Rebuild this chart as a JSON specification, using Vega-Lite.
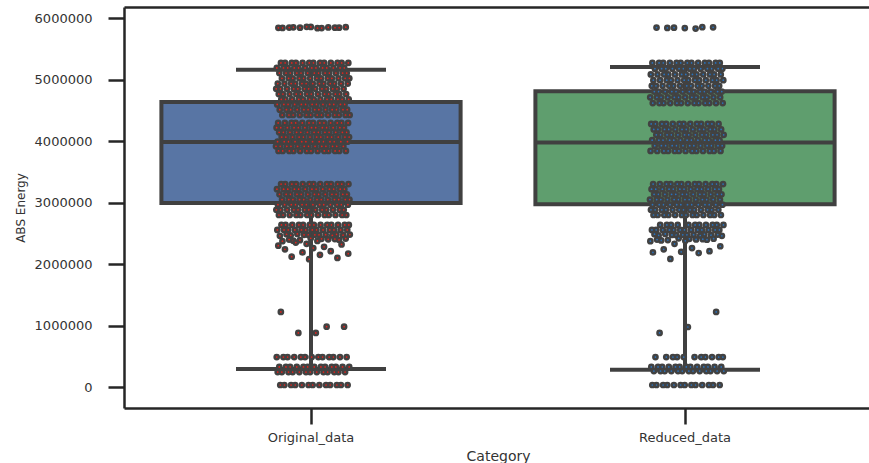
{
  "$schema": "https://vega.github.io/schema/vega-lite/v6.json",
  "autosize": {"type": "none"},
  "padding": {"left": 124, "top": 7, "right": 0, "bottom": 55},
  "width": 745,
  "height": 401,
  "view": {"stroke": null},
  "config": {
    "font": "DejaVu Sans",
    "view": {"stroke": null},
    "axisLeft": {
      "domain": true, "domainWidth": 2.5, "domainColor": "#262626",
      "ticks": true, "tickSize": 16, "tickWidth": 2.5, "tickColor": "#262626",
      "labels": true, "labelFontSize": 13, "labelColor": "#333333", "labelPadding": 16,
      "titleFontSize": 12, "titleFontWeight": "normal", "titleColor": "#333333", "titlePadding": 7,
      "grid": false
    },
    "axisRight": {"domain": false, "ticks": false, "labels": false, "grid": false, "titleOpacity": 0},
    "axisBottom": {
      "domain": true, "domainWidth": 2.5, "domainColor": "#262626",
      "ticks": true, "tickSize": 16, "tickWidth": 2.5, "tickColor": "#262626",
      "labels": true, "labelFontSize": 13, "labelColor": "#333333", "labelPadding": 7, "labelAngle": 0,
      "titleFontSize": 14, "titleFontWeight": "normal", "titleColor": "#333333", "titlePadding": 5,
      "grid": false
    },
    "axisTop": {"domain": true, "domainWidth": 2.5, "domainColor": "#262626", "ticks": false, "labels": false, "grid": false, "titleOpacity": 0}
  },
  "datasets": {
    "box": [
      {"c": "Original_data", "lo": 294000, "q1": 2993000, "med": 3985000, "q3": 4635000, "hi": 5160000},
      {"c": "Reduced_data", "lo": 281000, "q1": 2972000, "med": 3977000, "q3": 4809000, "hi": 5204000}
    ],
    "orig": [
      {"v":5838000},{"v":5850000},{"v":5844000},{"v":5856000},{"v":5840000},{"v":5848000},{"v":5844000},{"v":5852000},{"v":5836000},{"v":5846000},{"v":5844000},{"v":5858000},{"v":5842000},
      {"v":5270000},{"v":5270000},{"v":5270000},{"v":5270000},{"v":5270000},{"v":5270000},{"v":5270000},{"v":5270000},{"v":5270000},{"v":5270000},{"v":5270000},{"v":5270000},{"v":5270000},
      {"v":5190000},{"v":5190000},{"v":5190000},{"v":5190000},{"v":5190000},{"v":5190000},{"v":5190000},{"v":5190000},{"v":5190000},{"v":5190000},{"v":5190000},{"v":5190000},{"v":5190000},
      {"v":5105000},{"v":5105000},{"v":5105000},{"v":5105000},{"v":5105000},{"v":5105000},{"v":5105000},{"v":5105000},{"v":5105000},{"v":5105000},{"v":5105000},{"v":5105000},{"v":5105000},
      {"v":5020000},{"v":5020000},{"v":5020000},{"v":5020000},{"v":5020000},{"v":5020000},{"v":5020000},{"v":5020000},{"v":5020000},{"v":5020000},{"v":5020000},{"v":5020000},{"v":5020000},
      {"v":4935000},{"v":4935000},{"v":4935000},{"v":4935000},{"v":4935000},{"v":4935000},{"v":4935000},{"v":4935000},{"v":4935000},{"v":4935000},{"v":4935000},{"v":4935000},{"v":4935000},
      {"v":4850000},{"v":4850000},{"v":4850000},{"v":4850000},{"v":4850000},{"v":4850000},{"v":4850000},{"v":4850000},{"v":4850000},{"v":4850000},{"v":4850000},{"v":4850000},{"v":4850000},
      {"v":4765000},{"v":4765000},{"v":4765000},{"v":4765000},{"v":4765000},{"v":4765000},{"v":4765000},{"v":4765000},{"v":4765000},{"v":4765000},{"v":4765000},{"v":4765000},{"v":4765000},
      {"v":4680000},{"v":4680000},{"v":4680000},{"v":4680000},{"v":4680000},{"v":4680000},{"v":4680000},{"v":4680000},{"v":4680000},{"v":4680000},{"v":4680000},{"v":4680000},{"v":4680000},
      {"v":4595000},{"v":4595000},{"v":4595000},{"v":4595000},{"v":4595000},{"v":4595000},{"v":4595000},{"v":4595000},{"v":4595000},{"v":4595000},{"v":4595000},{"v":4595000},{"v":4595000},
      {"v":4510000},{"v":4510000},{"v":4510000},{"v":4510000},{"v":4510000},{"v":4510000},{"v":4510000},{"v":4510000},{"v":4510000},{"v":4510000},{"v":4510000},{"v":4510000},{"v":4510000},
      {"v":4424000},{"v":4424000},{"v":4424000},{"v":4424000},{"v":4424000},{"v":4424000},{"v":4424000},{"v":4424000},{"v":4424000},{"v":4424000},{"v":4424000},{"v":4424000},{"v":4424000},
      {"v":4294000},{"v":4294000},{"v":4294000},{"v":4294000},{"v":4294000},{"v":4294000},{"v":4294000},{"v":4294000},{"v":4294000},{"v":4294000},{"v":4294000},{"v":4294000},{"v":4294000},
      {"v":4218000},{"v":4218000},{"v":4218000},{"v":4218000},{"v":4218000},{"v":4218000},{"v":4218000},{"v":4218000},{"v":4218000},{"v":4218000},{"v":4218000},{"v":4218000},{"v":4218000},
      {"v":4142000},{"v":4142000},{"v":4142000},{"v":4142000},{"v":4142000},{"v":4142000},{"v":4142000},{"v":4142000},{"v":4142000},{"v":4142000},{"v":4142000},{"v":4142000},{"v":4142000},
      {"v":4066000},{"v":4066000},{"v":4066000},{"v":4066000},{"v":4066000},{"v":4066000},{"v":4066000},{"v":4066000},{"v":4066000},{"v":4066000},{"v":4066000},{"v":4066000},{"v":4066000},
      {"v":3990000},{"v":3990000},{"v":3990000},{"v":3990000},{"v":3990000},{"v":3990000},{"v":3990000},{"v":3990000},{"v":3990000},{"v":3990000},{"v":3990000},{"v":3990000},{"v":3990000},
      {"v":3914000},{"v":3914000},{"v":3914000},{"v":3914000},{"v":3914000},{"v":3914000},{"v":3914000},{"v":3914000},{"v":3914000},{"v":3914000},{"v":3914000},{"v":3914000},{"v":3914000},
      {"v":3839000},{"v":3839000},{"v":3839000},{"v":3839000},{"v":3839000},{"v":3839000},{"v":3839000},{"v":3839000},{"v":3839000},{"v":3839000},{"v":3839000},{"v":3839000},{"v":3839000},
      {"v":3302000},{"v":3302000},{"v":3302000},{"v":3302000},{"v":3302000},{"v":3302000},{"v":3302000},{"v":3302000},{"v":3302000},{"v":3302000},{"v":3302000},{"v":3302000},{"v":3302000},
      {"v":3218000},{"v":3218000},{"v":3218000},{"v":3218000},{"v":3218000},{"v":3218000},{"v":3218000},{"v":3218000},{"v":3218000},{"v":3218000},{"v":3218000},{"v":3218000},{"v":3218000},
      {"v":3134000},{"v":3134000},{"v":3134000},{"v":3134000},{"v":3134000},{"v":3134000},{"v":3134000},{"v":3134000},{"v":3134000},{"v":3134000},{"v":3134000},{"v":3134000},{"v":3134000},
      {"v":3050000},{"v":3050000},{"v":3050000},{"v":3050000},{"v":3050000},{"v":3050000},{"v":3050000},{"v":3050000},{"v":3050000},{"v":3050000},{"v":3050000},{"v":3050000},{"v":3050000},
      {"v":2966000},{"v":2966000},{"v":2966000},{"v":2966000},{"v":2966000},{"v":2966000},{"v":2966000},{"v":2966000},{"v":2966000},{"v":2966000},{"v":2966000},{"v":2966000},{"v":2966000},
      {"v":2882000},{"v":2882000},{"v":2882000},{"v":2882000},{"v":2882000},{"v":2882000},{"v":2882000},{"v":2882000},{"v":2882000},{"v":2882000},{"v":2882000},{"v":2882000},{"v":2882000},
      {"v":2798000},{"v":2798000},{"v":2798000},{"v":2798000},{"v":2798000},{"v":2798000},{"v":2798000},{"v":2798000},{"v":2798000},{"v":2798000},{"v":2798000},{"v":2798000},{"v":2798000},
      {"v":2636000},{"v":2636000},{"v":2636000},{"v":2636000},{"v":2636000},{"v":2636000},{"v":2636000},{"v":2636000},{"v":2636000},{"v":2636000},{"v":2636000},{"v":2636000},{"v":2636000},
      {"v":2555000},{"v":2555000},{"v":2555000},{"v":2555000},{"v":2555000},{"v":2555000},{"v":2555000},{"v":2555000},{"v":2555000},{"v":2555000},{"v":2555000},{"v":2555000},{"v":2555000},
      {"v":2475000},{"v":2468000},{"v":2482000},{"v":2475000},{"v":2460000},{"v":2478000},{"v":2490000},{"v":2470000},{"v":2475000},{"v":2485000},{"v":2465000},{"v":2475000},{"v":2480000},
      {"v":2410000},{"v":2380000},{"v":2395000},{"v":2420000},{"v":2372000},{"v":2402000},{"v":2388000},{"v":2415000},{"v":2376000},{"v":2398000},{"v":2406000},
      {"v":2330000},{"v":2300000},{"v":2280000},{"v":2350000},{"v":2320000},{"v":2260000},{"v":2240000},{"v":2210000},{"v":2190000},{"v":2170000},{"v":2150000},{"v":2120000},{"v":2100000},{"v":2080000},
      {"v":1221000},{"v":982000},{"v":880000},{"v":982000},{"v":880000},
      {"v":489000},{"v":489000},{"v":489000},{"v":489000},{"v":489000},{"v":489000},{"v":489000},{"v":489000},{"v":489000},{"v":489000},{"v":489000},{"v":489000},{"v":489000},
      {"v":327000},{"v":327000},{"v":327000},{"v":327000},{"v":327000},{"v":327000},{"v":327000},{"v":327000},{"v":327000},{"v":327000},{"v":327000},{"v":327000},{"v":327000},
      {"v":245000},{"v":245000},{"v":245000},{"v":245000},{"v":245000},{"v":245000},{"v":245000},{"v":245000},{"v":245000},{"v":245000},{"v":245000},{"v":245000},{"v":245000},
      {"v":34000},{"v":34000},{"v":34000},{"v":34000},{"v":34000},{"v":34000},{"v":34000},{"v":34000},{"v":34000},{"v":34000},{"v":34000},{"v":34000},{"v":34000}
    ],
    "red": [
      {"v":5830000},{"v":5840000},{"v":5850000},{"v":5838000},{"v":5846000},{"v":5852000},{"v":5844000},
      {"v":5270000},{"v":5270000},{"v":5270000},{"v":5270000},{"v":5270000},{"v":5270000},{"v":5270000},{"v":5270000},{"v":5270000},{"v":5270000},{"v":5270000},{"v":5270000},{"v":5270000},
      {"v":5177000},{"v":5177000},{"v":5177000},{"v":5177000},{"v":5177000},{"v":5177000},{"v":5177000},{"v":5177000},{"v":5177000},{"v":5177000},{"v":5177000},{"v":5177000},{"v":5177000},
      {"v":5084000},{"v":5084000},{"v":5084000},{"v":5084000},{"v":5084000},{"v":5084000},{"v":5084000},{"v":5084000},{"v":5084000},{"v":5084000},{"v":5084000},{"v":5084000},{"v":5084000},
      {"v":4991000},{"v":4991000},{"v":4991000},{"v":4991000},{"v":4991000},{"v":4991000},{"v":4991000},{"v":4991000},{"v":4991000},{"v":4991000},{"v":4991000},{"v":4991000},{"v":4991000},
      {"v":4898000},{"v":4898000},{"v":4898000},{"v":4898000},{"v":4898000},{"v":4898000},{"v":4898000},{"v":4898000},{"v":4898000},{"v":4898000},{"v":4898000},{"v":4898000},{"v":4898000},
      {"v":4805000},{"v":4805000},{"v":4805000},{"v":4805000},{"v":4805000},{"v":4805000},{"v":4805000},{"v":4805000},{"v":4805000},{"v":4805000},{"v":4805000},{"v":4805000},{"v":4805000},
      {"v":4712000},{"v":4712000},{"v":4712000},{"v":4712000},{"v":4712000},{"v":4712000},{"v":4712000},{"v":4712000},{"v":4712000},{"v":4712000},{"v":4712000},{"v":4712000},{"v":4712000},
      {"v":4619000},{"v":4619000},{"v":4619000},{"v":4619000},{"v":4619000},{"v":4619000},{"v":4619000},{"v":4619000},{"v":4619000},{"v":4619000},{"v":4619000},{"v":4619000},{"v":4619000},
      {"v":4278000},{"v":4278000},{"v":4278000},{"v":4278000},{"v":4278000},{"v":4278000},{"v":4278000},{"v":4278000},{"v":4278000},{"v":4278000},{"v":4278000},{"v":4278000},{"v":4278000},
      {"v":4190000},{"v":4190000},{"v":4190000},{"v":4190000},{"v":4190000},{"v":4190000},{"v":4190000},{"v":4190000},{"v":4190000},{"v":4190000},{"v":4190000},{"v":4190000},{"v":4190000},
      {"v":4102000},{"v":4102000},{"v":4102000},{"v":4102000},{"v":4102000},{"v":4102000},{"v":4102000},{"v":4102000},{"v":4102000},{"v":4102000},{"v":4102000},{"v":4102000},{"v":4102000},
      {"v":4014000},{"v":4014000},{"v":4014000},{"v":4014000},{"v":4014000},{"v":4014000},{"v":4014000},{"v":4014000},{"v":4014000},{"v":4014000},{"v":4014000},{"v":4014000},{"v":4014000},
      {"v":3926000},{"v":3926000},{"v":3926000},{"v":3926000},{"v":3926000},{"v":3926000},{"v":3926000},{"v":3926000},{"v":3926000},{"v":3926000},{"v":3926000},{"v":3926000},{"v":3926000},
      {"v":3839000},{"v":3839000},{"v":3839000},{"v":3839000},{"v":3839000},{"v":3839000},{"v":3839000},{"v":3839000},{"v":3839000},{"v":3839000},{"v":3839000},{"v":3839000},{"v":3839000},
      {"v":3302000},{"v":3302000},{"v":3302000},{"v":3302000},{"v":3302000},{"v":3302000},{"v":3302000},{"v":3302000},{"v":3302000},{"v":3302000},{"v":3302000},{"v":3302000},{"v":3302000},
      {"v":3218000},{"v":3218000},{"v":3218000},{"v":3218000},{"v":3218000},{"v":3218000},{"v":3218000},{"v":3218000},{"v":3218000},{"v":3218000},{"v":3218000},{"v":3218000},{"v":3218000},
      {"v":3134000},{"v":3134000},{"v":3134000},{"v":3134000},{"v":3134000},{"v":3134000},{"v":3134000},{"v":3134000},{"v":3134000},{"v":3134000},{"v":3134000},{"v":3134000},{"v":3134000},
      {"v":3050000},{"v":3050000},{"v":3050000},{"v":3050000},{"v":3050000},{"v":3050000},{"v":3050000},{"v":3050000},{"v":3050000},{"v":3050000},{"v":3050000},{"v":3050000},{"v":3050000},
      {"v":2966000},{"v":2966000},{"v":2966000},{"v":2966000},{"v":2966000},{"v":2966000},{"v":2966000},{"v":2966000},{"v":2966000},{"v":2966000},{"v":2966000},{"v":2966000},{"v":2966000},
      {"v":2882000},{"v":2882000},{"v":2882000},{"v":2882000},{"v":2882000},{"v":2882000},{"v":2882000},{"v":2882000},{"v":2882000},{"v":2882000},{"v":2882000},{"v":2882000},{"v":2882000},
      {"v":2798000},{"v":2798000},{"v":2798000},{"v":2798000},{"v":2798000},{"v":2798000},{"v":2798000},{"v":2798000},{"v":2798000},{"v":2798000},{"v":2798000},{"v":2798000},{"v":2798000},
      {"v":2636000},{"v":2636000},{"v":2636000},{"v":2636000},{"v":2636000},{"v":2636000},{"v":2636000},{"v":2636000},{"v":2636000},{"v":2636000},{"v":2636000},
      {"v":2555000},{"v":2555000},{"v":2555000},{"v":2555000},{"v":2555000},{"v":2555000},{"v":2555000},{"v":2555000},{"v":2555000},{"v":2555000},{"v":2555000},{"v":2555000},{"v":2555000},
      {"v":2475000},{"v":2466000},{"v":2484000},{"v":2472000},{"v":2460000},{"v":2478000},{"v":2490000},{"v":2470000},{"v":2476000},{"v":2486000},{"v":2464000},{"v":2474000},{"v":2480000},
      {"v":2410000},{"v":2384000},{"v":2396000},{"v":2418000},{"v":2372000},{"v":2400000},{"v":2390000},{"v":2412000},{"v":2378000},{"v":2398000},{"v":2404000},
      {"v":2330000},{"v":2290000},{"v":2260000},{"v":2240000},{"v":2210000},{"v":2200000},{"v":2190000},{"v":2180000},{"v":2083000},
      {"v":1221000},{"v":977000},{"v":880000},
      {"v":489000},{"v":489000},{"v":489000},{"v":489000},{"v":489000},{"v":489000},{"v":489000},{"v":489000},{"v":489000},{"v":489000},{"v":489000},
      {"v":327000},{"v":327000},{"v":327000},{"v":327000},{"v":327000},{"v":327000},{"v":327000},{"v":327000},{"v":327000},{"v":327000},{"v":327000},{"v":327000},{"v":327000},
      {"v":260000},{"v":260000},{"v":260000},{"v":260000},{"v":260000},{"v":260000},{"v":260000},{"v":260000},{"v":260000},{"v":260000},{"v":260000},{"v":260000},{"v":260000},
      {"v":34000},{"v":34000},{"v":34000},{"v":34000},{"v":34000},{"v":34000},{"v":34000},{"v":34000},{"v":34000},{"v":34000},{"v":34000},{"v":34000},{"v":34000}
    ]
  },
  "layer": [
    {
      "data": {"name": "box"},
      "encoding": {
        "x": {
          "field": "c",
          "type": "nominal",
          "title": "Category",
          "scale": {"domain": ["Original_data", "Reduced_data"], "range": [0, 748], "paddingInner": 0, "paddingOuter": 0},
          "axis": {"orient": "bottom"}
        }
      },
      "layer": [
        {
          "mark": {"type": "rule", "color": "#404040", "strokeWidth": 4},
          "encoding": {
            "y": {
              "field": "lo",
              "type": "quantitative",
              "title": "ABS Energy",
              "scale": {"domain": [-340000, 6180000], "nice": false, "zero": false},
              "axis": {"orient": "left", "values": [0, 1000000, 2000000, 3000000, 4000000, 5000000, 6000000], "format": "d"}
            },
            "y2": {"field": "hi"}
          }
        },
        {
          "mark": {"type": "tick", "orient": "horizontal", "size": 150, "thickness": 4, "color": "#404040", "opacity": 1},
          "encoding": {"y": {"field": "lo", "type": "quantitative", "scale": {"domain": [-340000, 6180000], "nice": false, "zero": false}, "axis": null}}
        },
        {
          "mark": {"type": "tick", "orient": "horizontal", "size": 150, "thickness": 4, "color": "#404040", "opacity": 1},
          "encoding": {"y": {"field": "hi", "type": "quantitative", "scale": {"domain": [-340000, 6180000], "nice": false, "zero": false}, "axis": null}}
        },
        {
          "mark": {"type": "bar", "width": {"band": 0.8}, "stroke": "#404040", "strokeWidth": 4},
          "encoding": {
            "y": {"field": "q1", "type": "quantitative", "scale": {"domain": [-340000, 6180000], "nice": false, "zero": false}, "axis": null},
            "y2": {"field": "q3"},
            "fill": {"field": "c", "type": "nominal", "scale": {"range": ["#5875a4", "#5f9e6e"]}, "legend": null}
          }
        },
        {
          "mark": {"type": "tick", "orient": "horizontal", "size": 299, "thickness": 4, "color": "#404040", "opacity": 1},
          "encoding": {"y": {"field": "med", "type": "quantitative", "scale": {"domain": [-340000, 6180000], "nice": false, "zero": false}, "axis": null}}
        }
      ],
      "resolve": {"axis": {"y": "independent"}}
    },
    {
      "encoding": {
        "x": {
          "field": "jx",
          "type": "quantitative",
          "scale": {"domain": [-0.505, 1.495], "range": [0, 748], "nice": false, "zero": false},
          "axis": {"orient": "top", "title": null}
        },
        "y": {
          "field": "v",
          "type": "quantitative",
          "scale": {"domain": [-340000, 6180000], "nice": false, "zero": false},
          "axis": null
        }
      },
      "layer": [
        {
          "data": {"name": "orig"},
          "transform": [
            {"window": [{"op": "row_number", "as": "i"}]},
            {"calculate": "((datum.i * 0.6180339887) % 1 - 0.5) * 0.198", "as": "jx"}
          ],
          "mark": {"type": "point", "shape": "circle", "filled": true, "size": 18, "fill": "#e3221c", "stroke": "#424242", "strokeWidth": 2.5, "opacity": 1}
        },
        {
          "data": {"name": "red"},
          "transform": [
            {"window": [{"op": "row_number", "as": "i"}]},
            {"calculate": "1 + ((datum.i * 0.6180339887) % 1 - 0.5) * 0.198", "as": "jx"}
          ],
          "mark": {"type": "point", "shape": "circle", "filled": true, "size": 18, "fill": "#2a72bc", "stroke": "#424242", "strokeWidth": 2.5, "opacity": 1}
        }
      ]
    }
  ],
  "resolve": {"scale": {"x": "independent", "y": "shared"}, "axis": {"x": "independent", "y": "independent"}}
}
